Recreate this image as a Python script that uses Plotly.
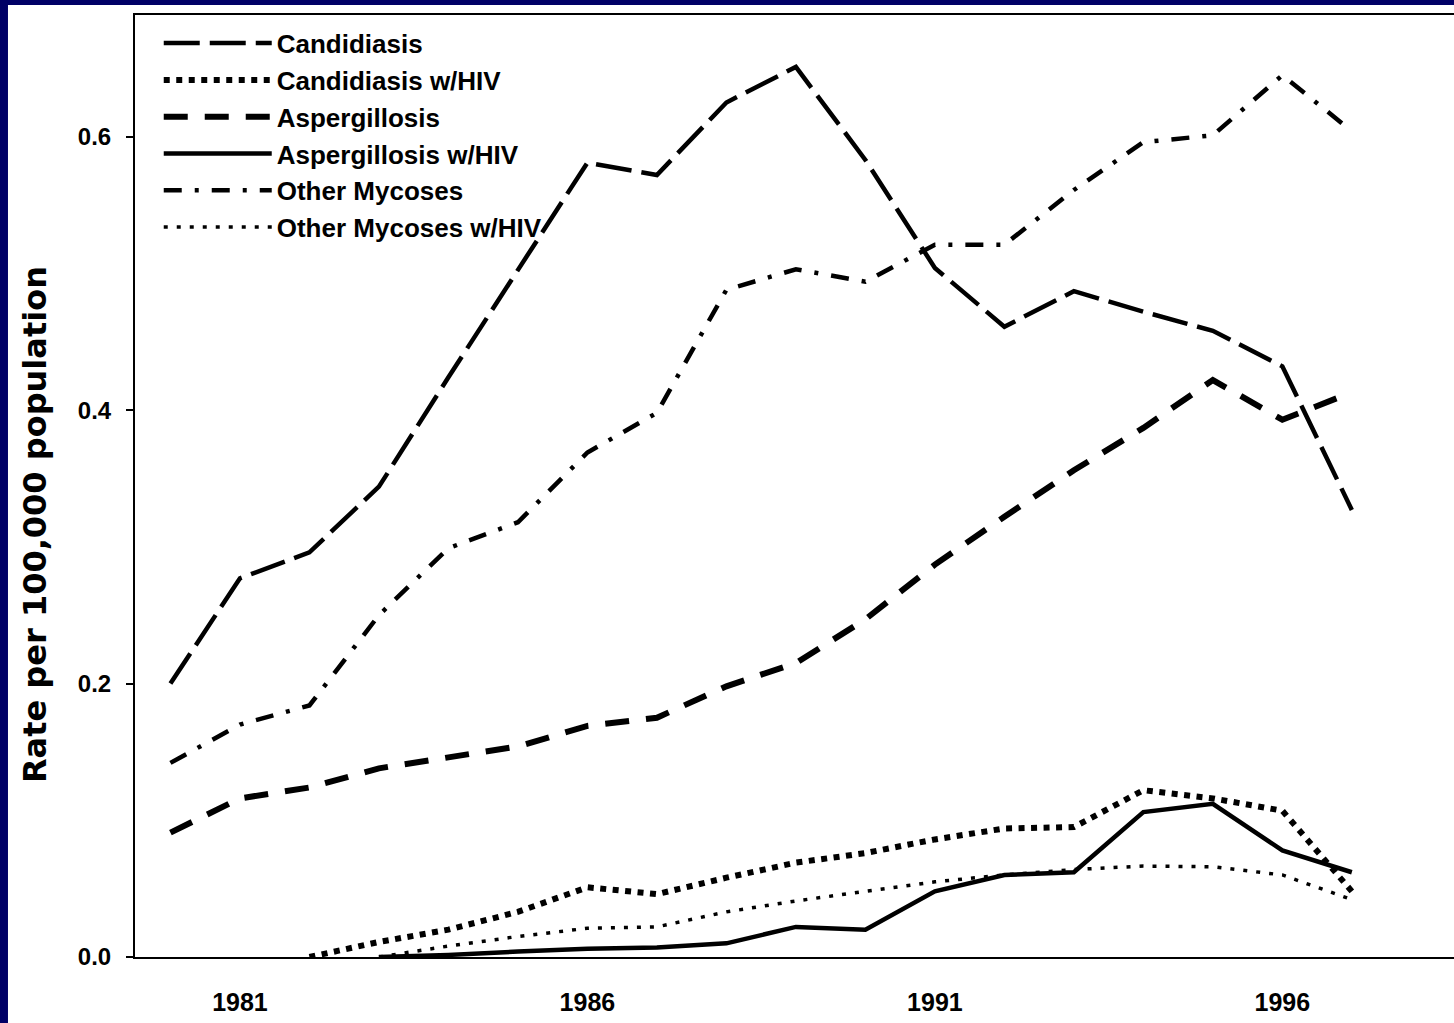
import plotly.graph_objects as go

years = list(range(1980, 1998))

candidiasis = [0.200, 0.277, 0.296, 0.344, 0.424, 0.503, 0.581, 0.572, 0.625, 0.651,
               0.583, 0.504, 0.461, 0.487, 0.472, 0.458, 0.432, 0.327]
aspergillosis = [0.091, 0.116, 0.124, 0.138, 0.146, 0.154, 0.169, 0.175, 0.198, 0.215,
                 0.247, 0.287, 0.322, 0.356, 0.387, 0.422, 0.393, 0.413]
other_mycoses = [0.142, 0.170, 0.184, 0.250, 0.299, 0.318, 0.369, 0.398, 0.488, 0.503,
                 0.494, 0.521, 0.521, 0.561, 0.596, 0.601, 0.645, 0.604]

hiv_years_cand = list(range(1982, 1998))
candidiasis_hiv = [0.000, 0.011, 0.020, 0.033, 0.051, 0.046, 0.058, 0.069, 0.076, 0.086,
                   0.094, 0.095, 0.122, 0.116, 0.107, 0.048]

hiv_years = list(range(1983, 1998))
aspergillosis_hiv = [0.000, 0.0015, 0.004, 0.006, 0.007, 0.010, 0.022, 0.020, 0.048, 0.060,
                     0.062, 0.106, 0.112, 0.078, 0.062]
other_mycoses_hiv = [0.000, 0.008, 0.015, 0.021, 0.022, 0.033, 0.041, 0.048, 0.055, 0.060,
                     0.064, 0.0665, 0.066, 0.060, 0.042]

year_ticks = [1981, 1986, 1991, 1996]
rate_ticks = [0.0, 0.2, 0.4, 0.6]

NAVY = "#000066"
BOLD = "Liberation Sans, Arial, sans-serif"

fig = go.Figure()

series = [
    ("Candidiasis", years, candidiasis, dict(width=4.5, dash="36px,10px")),
    ("Candidiasis w/HIV", hiv_years_cand, candidiasis_hiv, dict(width=6, dash="6px,6.5px")),
    ("Aspergillosis", years, aspergillosis, dict(width=6, dash="24px,17px")),
    ("Aspergillosis w/HIV", hiv_years, aspergillosis_hiv, dict(width=4.5)),
    ("Other Mycoses", years, other_mycoses, dict(width=4.5, dash="18px,13px,4px,13px")),
    ("Other Mycoses w/HIV", hiv_years, other_mycoses_hiv, dict(width=3.5, dash="4px,9px")),
]

for name, xs, ys, line in series:
    fig.add_trace(go.Scatter(
        x=xs, y=ys, mode="lines", name=name,
        line=dict(color="black", **line),
    ))

# white page inside the navy frame
fig.add_shape(type="rect", xref="paper", yref="paper",
              x0=-0.0963, x1=1.01, y0=-0.08, y1=1.0106,
              fillcolor="white", line_width=0, layer="below")

fig.add_annotation(
    text="Rate per 100,000 population",
    xref="paper", yref="paper", x=-0.0758, y=0.4586,
    xanchor="center", yanchor="middle", textangle=-90, showarrow=False,
    font=dict(family="DejaVu Sans, sans-serif", size=32, color="black", weight="bold"),
)

fig.update_layout(
    width=1454, height=1023,
    paper_bgcolor=NAVY, plot_bgcolor="white",
    margin=dict(l=135, r=0, t=15, b=66),
    showlegend=True,
    legend=dict(
        x=0.018, y=0.995, xanchor="left", yanchor="top",
        bgcolor="rgba(0,0,0,0)", itemwidth=108,
        font=dict(family=BOLD, size=26, color="black", weight="bold"),
        tracegroupgap=0,
    ),
)

fig.update_xaxes(
    range=[1979.49, 1998.47], tickvals=year_ticks,
    showline=True, linecolor="black", linewidth=2, mirror=True,
    showgrid=False, zeroline=False, ticks="",
    ticklabelstandoff=22,
    tickfont=dict(family=BOLD, size=25, color="black", weight="bold"),
)
fig.update_yaxes(
    range=[0, 0.689], tickvals=rate_ticks, tickformat=".1f",
    showline=True, linecolor="black", linewidth=2,
    showgrid=False, zeroline=False,
    ticks="outside", ticklen=7, tickwidth=2, tickcolor="black",
    ticklabelstandoff=10,
    tickfont=dict(family=BOLD, size=24, color="black", weight="bold"),
)

fig.write_html(
    "out.html",
    config={"displayModeBar": False},
    post_script="document.body.style.margin='0';document.body.style.background='%s';" % NAVY,
)
